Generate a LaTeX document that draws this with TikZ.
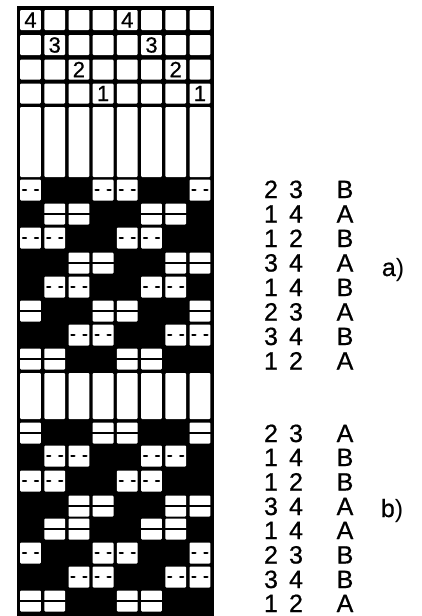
\documentclass[tikz,border=0pt]{standalone}
\usepackage{fontspec}
\setmainfont[RawFeature={embolden=0.7}]{Liberation Sans}
\newfontfamily\thinfont{Liberation Sans}
\usetikzlibrary{positioning}

\tikzset{
  cell/.style={fill=white, rounded corners=1pt, minimum width=20.8pt, minimum height=21pt, inner sep=0pt},
  mark line/.style={line width=2.4pt, line cap=round},
  gridnum/.style={inner sep=0pt, font=\fontsize{22}{22}\selectfont},
  rownum/.style={inner sep=0pt, anchor=base, font=\fontsize{25}{25}\selectfont}
}

\begin{document}
\begin{tikzpicture}[x=1pt, y=-1pt]
  \useasboundingbox (0,0) rectangle (422,616);
  \node[fill=black, minimum width=197pt, minimum height=610pt, inner sep=0pt] (board) at (115.5, 311) {};

  % numbered rows and the two blank strips
  \foreach \c in {1,...,8} {
    \foreach \r/\y in {1/20, 2/45, 3/69.5, 4/93.5}
      \node[cell, minimum height=20pt] (top-\r-\c) at (30.5+24.2*\c-24.2, \y) {};
    \node[cell, minimum height=70pt] (stripa-\c) at (30.5+24.2*\c-24.2, 142) {};
    \node[cell, minimum height=46pt] (stripb-\c) at (30.5+24.2*\c-24.2, 396) {};
  }
  \foreach \d/\c/\r in {4/1/1, 3/2/2, 2/3/3, 1/4/4} {
    \node[gridnum] (numa-\d) at (top-\r-\c) {\d};
    \pgfmathtruncatemacro{\cc}{\c+4}
    \node[gridnum] (numb-\d) at (top-\r-\cc) {\d};
  }

  % patterns
  \foreach \y/\cols in {190/{1,4,5,8}, 238/{1,2,5,6}, 287/{2,3,6,7}, 335/{3,4,7,8},
                        456/{2,3,6,7}, 481/{1,2,5,6}, 553/{1,4,5,8}, 577/{3,4,7,8}}
    \foreach \c in \cols {
      \node[cell] (cell-\y-\c) at (30.5+24.2*\c-24.2, \y) {};
      \draw[mark line] ([xshift=-7.5pt]cell-\y-\c.center) -- ([xshift=-4.5pt]cell-\y-\c.center);
      \draw[mark line] ([xshift=4.5pt]cell-\y-\c.center) -- ([xshift=7.5pt]cell-\y-\c.center);
    }
  \foreach \y/\cols in {214/{2,3,6,7}, 263/{3,4,7,8}, 311/{1,4,5,8}, 359/{1,2,5,6},
                        433/{1,4,5,8}, 506/{3,4,7,8}, 529/{2,3,6,7}, 601/{1,2,5,6}}
    \foreach \c in \cols {
      \node[cell] (cell-\y-\c) at (30.5+24.2*\c-24.2, \y) {};
      \draw[mark line] (cell-\y-\c.west) -- (cell-\y-\c.east);
    }

  % labels beside the rows
  \foreach \n/\y/\p/\q/\t in {1/198/2/3/B, 2/222.5/1/4/A, 3/247/1/2/B, 4/271.5/3/4/A, 5/296/1/4/B, 6/320.5/2/3/A, 7/345/3/4/B, 8/369.5/1/2/A,
                              9/442/2/3/A, 10/466/1/4/B, 11/490.5/1/2/B, 12/515/3/4/A, 13/539/1/4/A, 14/563.5/2/3/B, 15/588/3/4/B, 16/612/1/2/A} {
    \node[rownum] (p-\n) at (271, \y) {\p};
    \node[rownum] (q-\n) at (296, \y) {\q};
    \node[rownum] (t-\n) at (345, \y) {\t};
  }
  \node[rownum] (parta) at (393, 276) {a{\thinfont)}};
  \node[rownum] (partb) at (392, 517) {b{\thinfont)}};
\end{tikzpicture}
\end{document}
